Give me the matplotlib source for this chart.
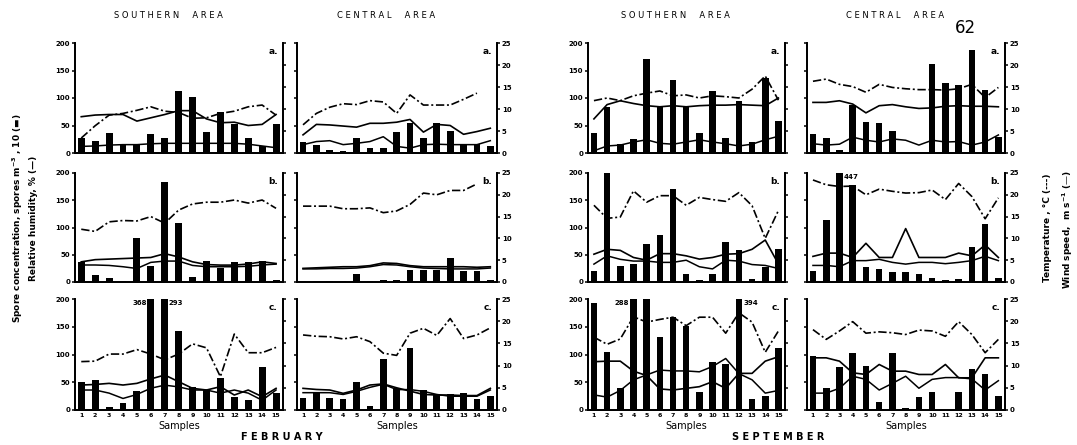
import numpy as np
import matplotlib
matplotlib.use('Agg')
import matplotlib.pyplot as plt

plt.rcParams['font.family'] = ['DejaVu Sans']
plt.rcParams['font.weight'] = 'bold'

nan = np.nan
samples = np.arange(1, 16)

# spores m-3 x 10 (bars), RH % (left axis), temperature C and wind m/s (right axis)
# February, southern area
bars_fs_a = [27, 21, 37, 15, 14, 35, 27, 112, 101, 38, 75, 53, 27, 13, 52]
rh_fs_a = [66, 69, 70, 70, 58, 64, 70, 77, 77, 62, 55, 56, 50, 52, 70]
temp_fs_a = [3.4, 6.2, 8.6, 9.0, 9.7, 10.5, 9.5, 9.2, 7.9, 8.0, 9.0, 9.5, 10.5, 10.9, 8.6]
wind_fs_a = [1.5, 1.6, 1.8, 1.9, 1.9, 2.1, 2.2, 2.2, 2.2, 2.2, 2.2, 2.2, 2.0, 1.6, 1.2]

bars_fs_b = [36, 13, 7, 2, 81, 30, 184, 108, 10, 38, 26, 37, 37, 39, 3]
rh_fs_b = [37, 41, 42, 43, 44, 45, 52, 46, 37, 32, 31, 31, 33, 37, 34]
temp_fs_b = [12.1, 11.6, 13.8, 14.1, 14.0, 15.0, 13.5, 16.5, 17.9, 18.3, 18.3, 18.8, 18.1, 18.8, 16.9]
wind_fs_b = [3.9, 3.9, 3.8, 3.5, 3.1, 4.5, 4.8, 4.8, 3.8, 3.5, 3.5, 3.5, 3.6, 3.9, 4.1]

bars_fs_c = [51, 54, 6, 12, 34, 368, 293, 143, 42, 36, 57, 24, 18, 78, 30]
rh_fs_c = [45, 46, 48, 45, 48, 56, 63, 51, 39, 36, 42, 27, 36, 24, 39]
temp_fs_c = [10.9, 11.0, 12.6, 12.6, 13.6, 12.6, 11.3, 12.6, 14.9, 14.0, 7.5, 17.1, 12.9, 12.9, 14.1]
wind_fs_c = [4.5, 4.5, 3.8, 2.6, 3.5, 4.9, 5.6, 5.2, 4.5, 4.5, 3.8, 4.5, 3.8, 2.2, 4.5]

# February, central area
bars_fc_a = [20, 15, 6, 4, 28, 9, 10, 39, 54, 28, 54, 40, 16, 16, 12]
rh_fc_a = [33, 52, 51, 49, 47, 54, 54, 56, 61, 38, 52, 50, 34, 39, 45]
temp_fc_a = [6.4, 9.0, 10.4, 11.2, 11.0, 11.9, 11.6, 9.0, 13.2, 10.9, 10.9, 10.9, 12.2, 13.6, nan]
wind_fc_a = [1.9, 2.6, 2.8, 1.9, 2.2, 2.6, 3.7, 1.5, 1.1, 1.9, 2.0, 1.9, 1.9, 1.9, 2.8]

bars_fc_b = [2, 1, 1, 1, 14, 1, 4, 4, 22, 22, 22, 44, 20, 20, 4]
rh_fc_b = [25, 26, 27, 28, 28, 30, 35, 34, 30, 28, 28, 28, 28, 27, 28]
temp_fc_b = [17.4, 17.4, 17.4, 16.8, 16.8, 17.0, 15.9, 16.3, 17.8, 20.4, 20.0, 21.0, 21.0, 22.5, nan]
wind_fc_b = [3.0, 3.0, 3.1, 3.1, 3.2, 3.5, 4.0, 3.9, 3.5, 3.2, 3.1, 3.0, 3.0, 3.0, 3.2]

bars_fc_c = [22, 31, 21, 20, 51, 8, 91, 40, 111, 36, 28, 28, 30, 20, 25]
rh_fc_c = [39, 37, 36, 30, 36, 45, 47, 40, 34, 28, 27, 27, 26, 26, 39]
temp_fc_c = [16.9, 16.6, 16.5, 16.0, 16.5, 15.4, 12.8, 12.3, 17.3, 18.4, 16.8, 20.6, 16.1, 16.9, 18.5]
wind_fc_c = [3.9, 3.9, 3.9, 3.5, 4.2, 5.1, 5.8, 4.6, 4.6, 4.2, 3.5, 3.1, 3.1, 3.1, 4.5]

# September, southern area
bars_ss_a = [36, 84, 17, 26, 171, 85, 132, 84, 37, 113, 27, 94, 20, 136, 59]
rh_ss_a = [62, 88, 95, 90, 86, 84, 86, 84, 86, 87, 87, 88, 87, 86, 100]
temp_ss_a = [11.9, 12.5, 11.9, 13.0, 13.6, 14.1, 13.0, 13.2, 12.5, 13.0, 12.8, 12.5, 14.5, 17.5, 12.0]
wind_ss_a = [0.5, 1.6, 1.8, 2.5, 3.0, 2.2, 2.0, 2.5, 3.0, 2.5, 2.1, 1.6, 2.0, 3.0, 3.8]

bars_ss_b = [21, 200, 30, 33, 70, 86, 170, 15, 4, 15, 73, 58, 5, 27, 60]
rh_ss_b = [51, 60, 58, 45, 40, 52, 52, 48, 42, 45, 51, 52, 60, 77, 33]
temp_ss_b = [17.6, 14.6, 14.9, 20.9, 18.3, 19.8, 19.8, 17.6, 19.4, 18.9, 18.5, 20.5, 17.5, 10.0, 16.4]
wind_ss_b = [4.1, 6.0, 5.2, 4.8, 4.8, 4.5, 4.5, 5.0, 3.5, 3.0, 5.0, 4.8, 4.0, 3.8, 3.1]

bars_ss_c = [192, 104, 39, 288, 200, 131, 167, 152, 32, 87, 82, 394, 20, 26, 112]
rh_ss_c = [87, 88, 88, 70, 62, 38, 36, 39, 42, 51, 39, 66, 66, 88, 96]
temp_ss_c = [16.4, 14.8, 16.0, 21.0, 19.8, 20.4, 20.9, 19.0, 20.9, 20.9, 17.3, 21.9, 19.8, 13.0, 17.8]
wind_ss_c = [3.4, 2.9, 4.4, 6.8, 7.9, 9.0, 8.8, 8.8, 8.6, 9.8, 11.6, 8.2, 6.8, 3.8, 4.4]

# September, central area
bars_sc_a = [35, 27, 6, 88, 56, 54, 40, 0, 0, 161, 127, 124, 187, 115, 29]
rh_sc_a = [92, 92, 95, 89, 73, 86, 88, 84, 81, 82, 85, 86, 85, 85, 84]
temp_sc_a = [16.3, 16.8, 15.6, 15.1, 13.8, 15.6, 14.9, 14.6, 14.4, 14.4, 14.3, 14.6, 15.6, 12.6, 14.9]
wind_sc_a = [2.1, 1.8, 2.0, 3.6, 2.9, 2.5, 3.2, 2.9, 1.8, 2.9, 2.5, 2.6, 1.8, 2.5, 4.1]

bars_sc_b = [21, 113, 447, 178, 27, 24, 18, 18, 15, 8, 3, 5, 64, 107, 8]
rh_sc_b = [47, 53, 53, 45, 71, 45, 45, 98, 45, 45, 45, 53, 48, 68, 45]
temp_sc_b = [23.4, 22.3, 21.9, 22.0, 20.0, 21.3, 20.8, 20.4, 20.5, 21.1, 18.9, 22.6, 19.6, 14.5, 19.3]
wind_sc_b = [3.8, 3.8, 3.5, 4.9, 4.9, 5.2, 4.5, 4.1, 4.5, 4.5, 4.2, 4.5, 4.9, 5.9, 4.9]

bars_sc_c = [98, 39, 77, 103, 79, 15, 102, 3, 23, 33, 0, 32, 73, 65, 25]
rh_sc_c = [94, 94, 88, 67, 64, 82, 70, 70, 64, 64, 82, 58, 58, 94, 94]
temp_sc_c = [18.1, 15.9, 17.8, 19.9, 17.3, 17.6, 17.4, 17.0, 18.0, 17.8, 16.6, 19.9, 17.0, 12.9, 15.9]
wind_sc_c = [3.8, 3.8, 4.9, 7.6, 6.9, 4.5, 6.0, 7.6, 4.9, 6.9, 7.3, 7.3, 7.0, 4.5, 6.6]

area_titles = ['SOUTHERN  AREA', 'CENTRAL  AREA', 'SOUTHERN  AREA', 'CENTRAL  AREA']
months = ['FEBRUARY', 'SEPTEMBER']
letters = ['a.', 'b.', 'c.']

# (row, col, bars, rh, temp, wind)
panels = [
    (0, 0, bars_fs_a, rh_fs_a, temp_fs_a, wind_fs_a),
    (1, 0, bars_fs_b, rh_fs_b, temp_fs_b, wind_fs_b),
    (2, 0, bars_fs_c, rh_fs_c, temp_fs_c, wind_fs_c),
    (0, 1, bars_fc_a, rh_fc_a, temp_fc_a, wind_fc_a),
    (1, 1, bars_fc_b, rh_fc_b, temp_fc_b, wind_fc_b),
    (2, 1, bars_fc_c, rh_fc_c, temp_fc_c, wind_fc_c),
    (0, 2, bars_ss_a, rh_ss_a, temp_ss_a, wind_ss_a),
    (1, 2, bars_ss_b, rh_ss_b, temp_ss_b, wind_ss_b),
    (2, 2, bars_ss_c, rh_ss_c, temp_ss_c, wind_ss_c),
    (0, 3, bars_sc_a, rh_sc_a, temp_sc_a, wind_sc_a),
    (1, 3, bars_sc_b, rh_sc_b, temp_sc_b, wind_sc_b),
    (2, 3, bars_sc_c, rh_sc_c, temp_sc_c, wind_sc_c),
]

W, H = 1077, 445
col_px = [(75, 283), (297, 497), (588, 785), (807, 1005)]
row_px = [(43, 153), (173, 282), (299, 410)]


def box(x0, x1, y0, y1):
    return [x0 / W, 1 - y1 / H, (x1 - x0) / W, (y1 - y0) / H]


fig = plt.figure(figsize=(W / 100, H / 100), dpi=100)
dashdot = (0, (5, 1.6, 1.2, 1.6))

for r, c, bars, rh, temp, wind in panels:
    ax = fig.add_axes(box(*col_px[c], *row_px[r]))
    ax.bar(samples, bars, width=0.5, color='k')
    ax.plot(samples, rh, color='k', lw=1.2)
    ax.set_ylim(0, 200)
    ax.set_xlim(0.55, 15.5)

    ax2 = ax.twinx()
    ax2.set_ylim(0, 25)
    ax2.plot(samples, temp, color='k', lw=1.2, ls=dashdot)
    ax2.plot(samples, wind, color='k', lw=1.1)

    for a in (ax, ax2):
        a.spines['top'].set_visible(False)
        for s in ('left', 'right', 'bottom'):
            a.spines[s].set_linewidth(1.3)

    ax.set_yticks([0, 50, 100, 150, 200])
    ax.tick_params(axis='y', direction='out', length=2.5, width=1.1, labelsize=5,
                   pad=1, labelleft=(c in (0, 2)))
    ax2.set_yticks([0, 5, 10, 15, 20, 25])
    ax2.tick_params(axis='y', direction='out', length=2.5, width=1.1, labelsize=5,
                    pad=1, labelright=(c in (1, 3)))
    ax.set_xticks(samples)
    ax.tick_params(axis='x', length=0, labelsize=4.5, pad=2, labelbottom=(r == 2))

    ax.text(0.975, 0.96, letters[r], transform=ax.transAxes, ha='right', va='top',
            fontsize=6.5)

    # values of bars cut by the top of the axis
    for i, v in enumerate(bars):
        if v > 200:
            nxt = bars[i + 1] if i + 1 < len(bars) else 0
            if nxt >= 200:
                ax.annotate(str(v), xy=(samples[i], 200), xytext=(-3, -1),
                            textcoords='offset points', ha='right', va='top',
                            fontsize=5)
            else:
                ax.annotate(str(v), xy=(samples[i], 200), xytext=(3, -1),
                            textcoords='offset points', ha='left', va='top',
                            fontsize=5)

    if r == 2:
        ax.set_xlabel('Samples', fontsize=7, labelpad=2)

# column headers
for c, t in enumerate(area_titles):
    cx = (col_px[c][0] + col_px[c][1]) / 2 / W
    fig.text(cx - 0.01, 1 - 15 / H, ' '.join(t), ha='center', va='center',
             fontsize=6, fontweight='normal')

fig.text(282 / W, 1 - 437 / H, ' '.join(months[0]), ha='center', va='center', fontsize=7)
fig.text(778 / W, 1 - 437 / H, ' '.join(months[1]), ha='center', va='center', fontsize=7)
fig.text(965 / W, 1 - 28 / H, '62', ha='center', va='center', fontsize=12,
         fontweight='normal')

fig.text(18 / W, 1 - 218 / H, 'Spore concentration, spores m$^{-3}$ , 10 (\u25ac)',
         rotation=90, ha='center', va='center', fontsize=6.5)
fig.text(33 / W, 1 - 218 / H, 'Relative humidity, % (\u2014)',
         rotation=90, ha='center', va='center', fontsize=6.5)
fig.text(1048 / W, 1 - 228 / H, 'Temperature , \u00b0C (---)',
         rotation=90, ha='center', va='center', fontsize=6.5)
fig.text(1068 / W, 1 - 230 / H, 'Wind speed,  m s$^{-1}$ (\u2014)',
         rotation=90, ha='center', va='center', fontsize=6.5)

plt.savefig('out.png', dpi=100)
